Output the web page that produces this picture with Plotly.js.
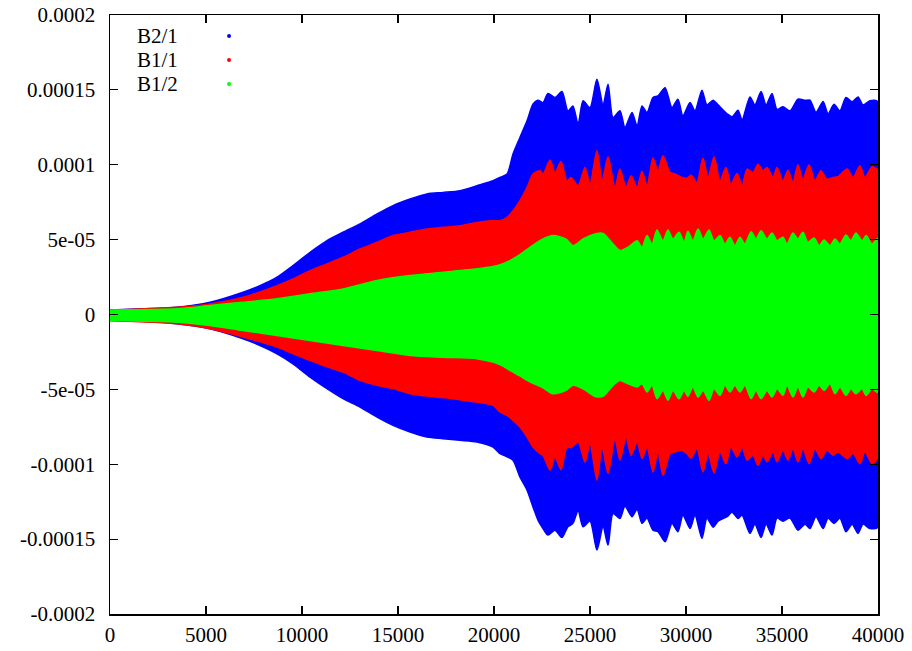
<!DOCTYPE html>
<html><head><meta charset="utf-8">
<script src="https://cdn.plot.ly/plotly-3.0.1.min.js"></script>
<style>html,body{margin:0;padding:0;background:#fff}#chart{width:912px;height:651px}</style>
</head><body><div id="chart"></div>
<script>
// Series labels and colours
const seriesNames = ['B2/1', 'B1/1', 'B1/2'];
const seriesColors = ['#0000ff', '#ff0000', '#00ff00'];

// Envelope values are given in units of 1e-5
const UNIT = 1e-5;

// B2/1 envelope (upper / lower edge of the oscillating band)
const b21X = [0,1720,3490,5210,6930,7810,8700,9530,10420,11300,12140,13020,13910,14740,15630,16510,17340,18230,19110,19950,20310,20680,20990,21350,21720,22030,22290,22550,22810,23180,23540,23850,24110,24380,24640,25000,25360,25680,25940,26200,26560,26820,27190,27450,27710,27970,28280,28540,28910,29270,29580,29840,30210,30470,30830,31090,31410,31670,32140,32400,32710,32920,33330,33590,33910,34170,34480,34740,35050,35420,35830,36200,36460,36770,37140,37400,37710,38020,38330,38650,38960,39220,39580,40000];
const b21Upper = [0.3,0.38,0.49,0.82,1.49,1.93,2.49,3.27,4.15,4.93,5.49,6.05,6.71,7.27,7.71,8.05,8.15,8.27,8.6,8.93,9.15,9.38,10.71,11.82,12.93,14.04,14.31,14.15,14.76,14.49,14.89,13.6,13.93,12.71,14.27,13.82,15.71,14.04,15.38,13.15,13.6,12.49,13.49,12.6,13.93,13.49,14.49,14.6,15.15,13.82,14.38,13.27,14.15,13.6,14.98,14.0,14.31,14.0,13.4,13.2,13.64,13.0,14.53,14.0,14.89,14.0,14.76,13.7,13.87,13.6,14.38,14.3,14.31,13.5,14.22,13.4,14.04,13.6,14.49,14.2,14.53,14.0,14.27,14.2];
const b21Lower = [-0.4,-0.45,-0.62,-0.95,-1.62,-2.07,-2.62,-3.29,-4.18,-4.95,-5.62,-6.18,-6.85,-7.4,-7.85,-8.18,-8.29,-8.4,-8.51,-8.85,-9.29,-9.5,-9.73,-10.85,-11.73,-12.85,-13.73,-14.29,-14.73,-14.4,-14.89,-14.18,-13.95,-13.1,-14.18,-13.8,-15.73,-14.18,-15.4,-13.3,-13.62,-12.8,-13.51,-13.0,-13.95,-13.6,-14.4,-14.5,-15.18,-13.95,-14.51,-13.4,-14.29,-13.4,-14.96,-13.6,-14.2,-13.8,-13.5,-13.2,-13.62,-13.4,-14.62,-14.0,-14.89,-14.0,-14.73,-13.6,-13.8,-13.6,-14.4,-14.0,-14.29,-13.5,-14.29,-13.6,-13.95,-13.6,-14.51,-14.0,-14.62,-14.0,-14.29,-14.2];

// B1/1 envelope
const b11X = [0,3490,5210,6930,8700,9530,10420,11300,12140,13020,13910,14740,15630,16510,17340,18230,19110,19950,20310,20680,20990,21350,21720,22030,22400,22550,22920,23180,23490,23800,24010,24380,24740,25000,25360,25630,25940,26300,26560,26880,27140,27450,27710,27970,28280,28540,28800,29170,29430,29790,30050,30260,30570,30880,31150,31460,31770,32080,32340,32660,32920,33180,33490,33750,34010,34220,34530,34740,35050,35310,35570,35830,36090,36410,36720,37030,37340,37660,37920,38390,38700,39060,39320,39690,40000];
const b11Upper = [0.3,0.49,0.71,1.15,1.93,2.38,2.93,3.38,3.82,4.38,4.82,5.27,5.49,5.71,5.82,5.93,6.15,6.27,6.27,6.49,6.93,7.6,8.49,9.38,9.6,9.38,10.31,9.49,10.22,8.93,9.15,8.6,9.82,8.71,10.93,8.93,10.53,8.49,9.71,8.49,9.27,8.49,9.56,8.6,10.45,9.6,10.6,9.49,9.38,9.15,9.1,9.3,8.82,10.45,9.15,10.53,8.93,9.82,8.71,9.42,8.6,9.71,9.49,10.04,9.6,9.82,9.15,9.82,8.93,9.64,8.82,10.0,9.04,10.0,8.93,9.6,9.04,9.15,9.2,9.71,9.15,9.93,9.15,9.87,9.6];
const b11Lower = [-0.4,-0.62,-0.95,-1.5,-2.18,-2.62,-3.07,-3.5,-3.85,-4.4,-4.73,-4.95,-5.29,-5.45,-5.55,-5.7,-5.85,-6.07,-6.51,-6.73,-7.07,-7.51,-8.18,-8.85,-9.29,-9.4,-10.4,-9.51,-10.36,-8.85,-8.9,-8.51,-9.85,-8.62,-11.07,-8.85,-10.62,-8.29,-9.73,-8.18,-9.4,-8.51,-9.62,-8.85,-10.51,-9.18,-10.73,-9.29,-9.18,-9.07,-9.29,-9.6,-8.96,-10.51,-9.29,-10.58,-9.18,-9.96,-8.85,-9.51,-8.85,-9.73,-9.4,-10.07,-9.4,-9.84,-9.18,-9.84,-9.07,-9.73,-8.96,-9.84,-8.96,-9.96,-8.96,-9.62,-9.07,-9.4,-9.18,-9.62,-9.29,-9.96,-9.18,-9.96,-9.51];

// B1/2 envelope
const b12X = [0,3490,5210,6930,8700,10420,12140,13910,15630,17340,19110,19950,20470,20830,21350,21880,22550,23070,23750,24110,24640,25260,25680,26200,26560,26980,27450,27710,27970,28230,28490,28800,29060,29320,29640,29900,30100,30360,30630,30890,31200,31460,31770,32030,32290,32550,32810,33070,33390,33650,33910,34220,34480,34740,35050,35260,35570,35830,36090,36350,36670,36930,37190,37500,37760,38020,38330,38590,38850,39170,39380,39690,40000];
const b12Upper = [0.3,0.38,0.6,0.82,1.05,1.38,1.71,2.27,2.6,2.82,3.05,3.2,3.4,3.6,4.0,4.49,5.04,5.27,5.04,4.6,5.04,5.38,5.42,4.71,4.27,4.49,4.93,4.49,5.27,4.71,5.64,4.93,5.64,5.04,5.49,4.82,5.56,4.93,5.71,5.04,5.64,4.93,5.27,4.71,5.16,4.6,5.16,4.71,5.53,5.04,5.6,5.04,5.44,4.93,5.16,4.71,5.44,5.04,5.49,4.82,5.11,4.6,4.98,4.6,5.04,4.71,5.31,4.93,5.44,4.93,5.27,4.71,5.1];
const b12Lower = [-0.4,-0.51,-0.73,-1.07,-1.4,-1.73,-2.07,-2.4,-2.73,-2.85,-2.95,-3.18,-3.45,-3.73,-4.1,-4.5,-4.9,-5.29,-5.07,-4.73,-4.96,-5.47,-5.47,-4.73,-4.4,-4.62,-4.84,-4.62,-5.18,-4.73,-5.62,-5.07,-5.73,-5.07,-5.62,-5.07,-5.47,-4.84,-5.51,-5.07,-5.73,-4.96,-5.4,-4.73,-5.18,-4.73,-5.18,-4.73,-5.62,-5.07,-5.62,-5.07,-5.51,-4.96,-5.4,-4.73,-5.51,-4.84,-5.51,-4.84,-5.18,-4.73,-5.07,-4.62,-5.29,-4.84,-5.4,-4.96,-5.29,-4.96,-5.4,-4.96,-5.2];

// Axis ticks
const xTickVals = [0,5000,10000,15000,20000,25000,30000,35000,40000];
const xTickText = ['0','5000','10000','15000','20000','25000','30000','35000','40000'];
const yTickVals = [-0.0002,-0.00015,-0.0001,-0.00005,0,0.00005,0.0001,0.00015,0.0002];
const yTickText = ['-0.0002','-0.00015','-0.0001','-5e-05','0','5e-05','0.0001','0.00015','0.0002'];

function band(x, up, lo, color) {
  const xs = x.concat(x.slice().reverse());
  const ys = up.map(v => v * UNIT).concat(lo.slice().reverse().map(v => v * UNIT));
  return {
    type: 'scatter', x: xs, y: ys, mode: 'lines', fill: 'toself',
    fillcolor: color, line: {color: color, width: 1.5, shape: 'spline', smoothing: 0.7},
    hoverinfo: 'skip', showlegend: false
  };
}

const data = [
  band(b21X, b21Upper, b21Lower, seriesColors[0]),
  band(b11X, b11Upper, b11Lower, seriesColors[1]),
  band(b12X, b12Upper, b12Lower, seriesColors[2])
];

const FONT = {family: 'Liberation Serif, Times New Roman, serif', size: 21, color: '#000'};
const axisCommon = {
  showline: true, linecolor: '#000', linewidth: 1.5, mirror: 'ticks',
  ticks: 'inside', ticklen: 8, tickwidth: 1.2, tickcolor: '#000',
  showgrid: false, zeroline: false, tickfont: FONT
};

const legendY = [0.965, 0.925, 0.885];
const annotations = seriesNames.map((n, i) => ({
  xref: 'paper', yref: 'paper', x: 0.0326, y: legendY[i], text: n,
  showarrow: false, xanchor: 'left', yanchor: 'middle', font: FONT
}));
const shapes = seriesNames.map((n, i) => ({
  type: 'circle', xref: 'paper', yref: 'paper', xsizemode: 'pixel', ysizemode: 'pixel',
  xanchor: 0.155, yanchor: legendY[i], x0: -2, x1: 2, y0: -2, y1: 2,
  fillcolor: seriesColors[i], line: {width: 0}
}));

const layout = {
  width: 912, height: 651,
  margin: {l: 110, r: 34, t: 15, b: 37},
  paper_bgcolor: '#fff', plot_bgcolor: '#fff',
  font: FONT, showlegend: false, hovermode: false,
  xaxis: Object.assign({}, axisCommon, {range: [0, 40000], tickvals: xTickVals, ticktext: xTickText, ticklabelstandoff: 1}),
  yaxis: Object.assign({}, axisCommon, {range: [-0.0002, 0.0002], tickvals: yTickVals, ticktext: yTickText, ticklabelstandoff: 9}),
  annotations: annotations, shapes: shapes
};

Plotly.newPlot('chart', data, layout, {displayModeBar: false, staticPlot: true});
</script>
</body></html>
